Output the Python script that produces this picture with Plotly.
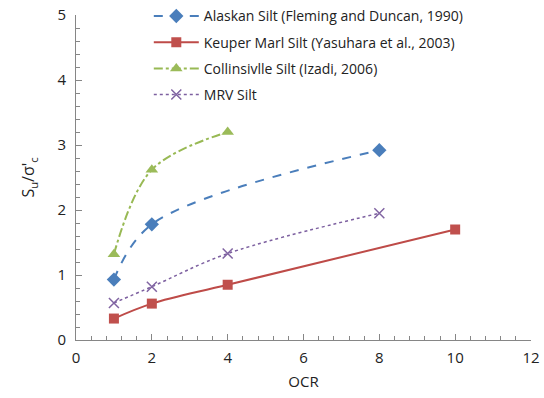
import plotly.graph_objects as go

alaskan_x = [1, 2, 8]
alaskan_y = [0.93, 1.78, 2.92]
keuper_x = [1, 2, 4, 10]
keuper_y = [0.33, 0.56, 0.85, 1.70]
collins_x = [1, 2, 4]
collins_y = [1.32, 2.62, 3.20]
mrv_x = [1, 2, 4, 8]
mrv_y = [0.57, 0.82, 1.33, 1.95]

names = ["Alaskan Silt (Fleming and Duncan, 1990)",
         "Keuper Marl Silt (Yasuhara et al., 2003)",
         "Collinsivlle Silt (Izadi, 2006)",
         "MRV Silt"]

font = "Open Sans"

fig = go.Figure()
fig.add_trace(go.Scatter(x=alaskan_x, y=alaskan_y, name=names[0], mode="lines+markers", legendgroup="a",
                         line=dict(color="#4A7EBB", width=2, dash="dash", shape="spline", smoothing=1),
                         marker=dict(symbol="diamond", size=11, color="#4A7EBB")))
fig.add_trace(go.Scatter(x=keuper_x, y=keuper_y, name=names[1], mode="lines+markers", legendgroup="b",
                         line=dict(color="#BE4B48", width=2, shape="spline", smoothing=1),
                         marker=dict(symbol="square", size=10, color="#C0504D")))
fig.add_trace(go.Scatter(x=collins_x, y=collins_y, name=names[2], mode="lines+markers", legendgroup="c",
                         line=dict(color="#98B954", width=2, dash="dashdot", shape="spline", smoothing=1),
                         marker=dict(symbol="triangle-up", size=11, color="#9BBB59")))
fig.add_trace(go.Scatter(x=mrv_x, y=mrv_y, name=names[3], mode="lines+markers", legendgroup="d",
                         line=dict(color="#7D60A0", width=1.5, dash="dot", shape="spline", smoothing=1),
                         marker=dict(symbol="x-thin", size=10, color="#8064A2",
                                     line=dict(width=1.5, color="#8064A2"))))

axis_common = dict(showgrid=False, zeroline=False, showline=True, linecolor="#868686", linewidth=1,
                   ticks="inside", ticklen=6, tickcolor="#868686", tickwidth=1,
                   tickfont=dict(family=font, size=15, color="#222"))
fig.update_xaxes(range=[0, 12], dtick=2, tick0=0, ticklabelstandoff=4,
                 minor=dict(dtick=0.4, ticks="inside", ticklen=4, tickcolor="#868686"),
                 title=dict(text="OCR", font=dict(family=font, size=15, color="#222"), standoff=10),
                 **axis_common)
fig.update_yaxes(range=[0, 5], dtick=1, tick0=0, ticklabelstandoff=6,
                 minor=dict(dtick=0.2, ticks="inside", ticklen=4, tickcolor="#868686"),
                 title=dict(text="S<sub>u</sub>/σ'<sub>c</sub>", font=dict(family=font, size=16, color="#222"), standoff=18),
                 **axis_common)

fig.update_layout(width=544, height=398, margin=dict(l=76, r=13, t=15, b=58, autoexpand=False),
                  paper_bgcolor="white", plot_bgcolor="white",
                  legend=dict(x=0.16, y=1.045, xanchor="left", yanchor="top",
                              bgcolor="rgba(0,0,0,0)", font=dict(family=font, size=14, color="#222"),
                              tracegroupgap=5, itemwidth=45),
                  showlegend=True)

fig.write_html("out.html")
